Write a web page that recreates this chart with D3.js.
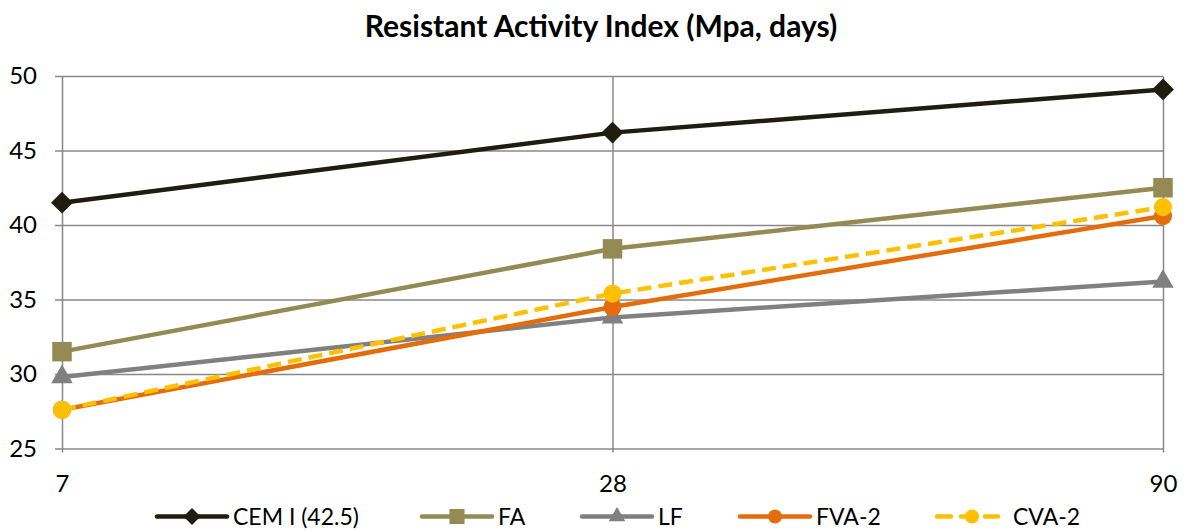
<!DOCTYPE html>
<html>
<head>
<meta charset="utf-8">
<script src="https://cdn.jsdelivr.net/npm/d3@7"></script>
<style>
  body { margin: 0; background: #fff; }
  svg text { font-family: Lato, "Open Sans", sans-serif; fill: #000; }
</style>
</head>
<body>
<div id="container"></div>
<script>
// chart data
const days = ['7', '28', '90'];
const seriesNames = ['CEM I (42.5)', 'FA', 'LF', 'FVA-2', 'CVA-2'];
const cemValues = [41.5, 46.2, 49.1];
const faValues = [31.5, 38.4, 42.5];
const lfValues = [29.8, 33.8, 36.2];
const fvaValues = [27.6, 34.5, 40.6];
const cvaValues = [27.6, 35.4, 41.2];
const yTicks = [25, 30, 35, 40, 45, 50];

const colors = ['#1f1c10', '#948a54', '#808080', '#e46c0a', '#ffc000'];
const symbols = [d3.symbolSquare, d3.symbolSquare, d3.symbolTriangle, d3.symbolCircle, d3.symbolCircle];
const symSizes = [240, 380, 200, 260, 260];
const rotations = [45, 0, 0, 0, 0];
const dashes = [null, null, null, null, '14,7'];

const series = seriesNames.map((name, i) => ({
    name: name,
    values: [cemValues, faValues, lfValues, fvaValues, cvaValues][i]
}));

// svg dimensions
const w = 1184;
const h = 532;
const margin = { top: 76, right: 21, bottom: 84, left: 62 };
const innerW = w - margin.left - margin.right;
const innerH = h - margin.top - margin.bottom;

const svg = d3.select('#container')
    .append('svg')
    .attr('width', w)
    .attr('height', h);

// scales
const xScale = d3.scalePoint()
    .domain(days)
    .range([margin.left, w - margin.right]);

const yScale = d3.scaleLinear()
    .domain([25, 50])
    .range([h - margin.bottom + 0.5, margin.top]);

// horizontal grid + y labels
svg.append('g')
    .attr('transform', `translate(${margin.left}, 0)`)
    .call(d3.axisLeft(yScale).tickValues(yTicks).tickSize(-innerW).tickPadding(25).tickFormat(d3.format('d')))
    .call(g => g.select('.domain').remove())
    .call(g => g.selectAll('line').attr('x1', -7).attr('stroke', '#888').attr('stroke-width', 1.5))
    .call(g => g.selectAll('text').attr('font-size', 24).style('font-family', 'Lato, sans-serif'));

// vertical grid + x labels
svg.append('g')
    .attr('transform', `translate(0, ${h - margin.bottom + 0.5})`)
    .call(d3.axisBottom(xScale).tickSize(-innerH).tickPadding(26))
    .call(g => g.select('.domain').remove())
    .call(g => g.selectAll('line').attr('y1', 4).attr('stroke', '#888').attr('stroke-width', 1.5))
    .call(g => g.selectAll('text').attr('font-size', 24).style('font-family', 'Lato, sans-serif'));

// title
svg.append('text')
    .attr('x', 601)
    .attr('y', 37)
    .attr('text-anchor', 'middle')
    .attr('font-size', 30)
    .attr('font-weight', 'bold')
    .text('Resistant Activity Index (Mpa, days)');

// lines
const line = d3.line()
    .x((d, i) => xScale(days[i]))
    .y(d => yScale(d));

series.forEach((s, i) => {
    svg.append('path')
        .datum(s.values)
        .attr('fill', 'none')
        .attr('stroke', colors[i])
        .attr('stroke-width', 4.5)
        .attr('stroke-dasharray', dashes[i])
        .attr('d', line);

    svg.selectAll(null)
        .data(s.values)
        .enter()
        .append('path')
        .attr('transform', (d, j) => `translate(${xScale(days[j])}, ${yScale(d)}) rotate(${rotations[i]})`)
        .attr('d', d3.symbol().type(symbols[i]).size(symSizes[i]))
        .attr('fill', colors[i]);
});

// legend
const legendX = [157, 422, 582, 740, 937];
const legend = svg.append('g');
seriesNames.forEach((name, i) => {
    const g = legend.append('g').attr('transform', `translate(${legendX[i]}, 516.5)`);
    g.append('line')
        .attr('x1', 0).attr('x2', i === 4 ? 61 : 70)
        .attr('stroke', colors[i])
        .attr('stroke-width', 4.5)
        .attr('stroke-linecap', 'round')
        .attr('stroke-dasharray', i === 4 ? '14,10' : null);
    g.append('path')
        .attr('transform', `translate(35, 0) rotate(${rotations[i]})`)
        .attr('d', d3.symbol().type(symbols[i]).size(symSizes[i] * 0.6))
        .attr('fill', colors[i]);
    g.append('text')
        .attr('x', 76)
        .attr('y', 8.5)
        .attr('font-size', 23)
        .text(name);
});
</script>
</body>
</html>
